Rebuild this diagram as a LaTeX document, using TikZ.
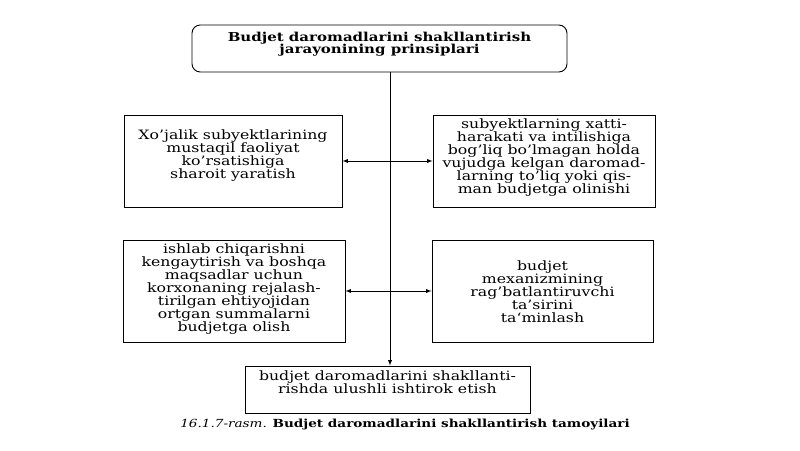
\documentclass[tikz,border=0pt]{standalone}
\usepackage{fontspec}
\setmainfont{DejaVu Serif}[FakeStretch=1.22]
\usetikzlibrary{positioning}

% width, height, gap above the first line, lines
\newcommand{\boxtext}[4]{\parbox[c][#2][t]{#1}{\centering\vspace*{#3}#4}}

\tikzset{
    box/.style={draw, line width=0.8pt, inner sep=0pt,
        font=\fontsize{11}{11}\selectfont},
    toparrow/.style={line width=0.6pt}
}

\begin{document}
\begin{tikzpicture}[>=latex]
        \useasboundingbox (0,0) rectangle (24,13.5);
        % principles
        \node[box, rounded corners=7pt, font=\fontsize{10.5}{11}\selectfont\bfseries] (title) at (11.385,12.045)
            {\boxtext{11.25cm}{1.41cm}{0.2cm}{Budjet daromadlarini shakllantirish\\jarayonining prinsiplari}};
        \node[box] (freedom) at (6.99,8.67)
            {\boxtext{6.54cm}{2.76cm}{0.45cm}{Xo'jalik subyektlarining\\mustaqil faoliyat\\ko'rsatishiga\\sharoit yaratish}};
        \node[box] (independent) at (16.32,8.67)
            {\boxtext{6.66cm}{2.76cm}{0.12cm}{subyektlarning xatti-\\harakati va intilishiga\\bog'liq bo'lmagan holda\\vujudga kelgan daromad-\\larning to'liq yoki qis-\\man budjetga olinishi}};
        \node[box] (surplus) at (7.02,4.77)
            {\boxtext{6.66cm}{3.06cm}{0.12cm}{ishlab chiqarishni\\kengaytirish va boshqa\\maqsadlar uchun\\korxonaning rejalash-\\tirilgan ehtiyojidan\\ortgan summalarni\\budjetga olish}};
        \node[box] (stimulus) at (16.275,4.77)
            {\boxtext{6.63cm}{3.06cm}{0.62cm}{budjet\\mexanizmining\\rag'batlantiruvchi\\ta'sirini\\ta`minlash}};
        \node[box] (share) at (11.625,1.815)
            {\boxtext{8.55cm}{1.41cm}{0.15cm}{budjet daromadlarini shakllanti-\\rishda ulushli ishtirok etish}};
        \node[font=\fontsize{9.5}{11}\selectfont] (caption) at (12.15,0.75)
            {\textit{16.1.7-rasm.} \textbf{Budjet daromadlarini shakllantirish tamoyilari}};
        % spine
        \coordinate (spine) at (11.7,0);
        \draw[toparrow, ->] (title.south-|spine) -- (share.north-|spine);
        \draw[toparrow, ->] (freedom.east-|spine) -- (freedom.east);
        \draw[toparrow, ->] (independent.west-|spine) -- (independent.west);
        \draw[toparrow, ->] (surplus.east-|spine) -- (surplus.east);
        \draw[toparrow, ->] (stimulus.west-|spine) -- (stimulus.west);
    \end{tikzpicture}
\end{document}
